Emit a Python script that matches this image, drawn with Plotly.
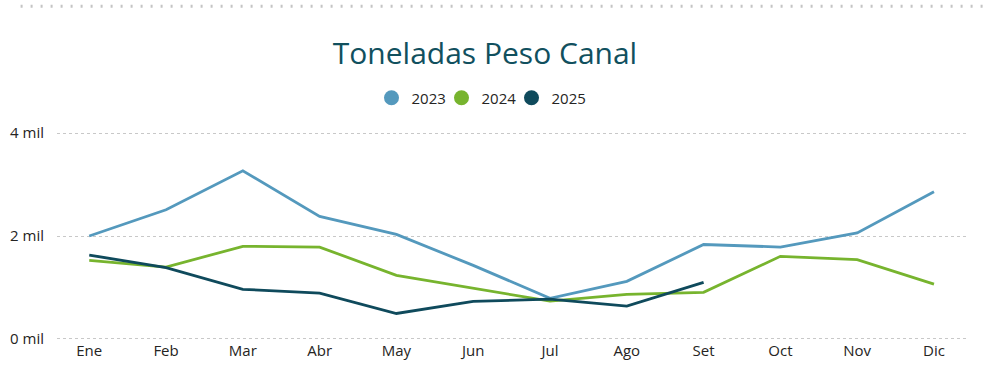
import plotly.graph_objects as go

months = ["Ene", "Feb", "Mar", "Abr", "May", "Jun", "Jul", "Ago", "Set", "Oct", "Nov", "Dic"]
v2023 = [2000, 2510, 3265, 2380, 2030, 1430, 790, 1120, 1835, 1785, 2060, 2860]
v2024 = [1525, 1395, 1800, 1785, 1235, 985, 735, 865, 905, 1605, 1540, 1065]
v2025 = [1630, 1385, 965, 890, 495, 730, 775, 640, 1100]
y_ticks = [0, 2000, 4000]
y_tick_text = ["0 mil", "2 mil", "4 mil"]

colors = {"2023": "#5499BD", "2024": "#77B42E", "2025": "#0F4A5C"}

fig = go.Figure()
for name, vals in [("2023", v2023), ("2024", v2024), ("2025", v2025)]:
    fig.add_trace(go.Scatter(
        x=months[:len(vals)], y=vals, name=name, mode="lines",
        line=dict(color=colors[name], width=2.8), showlegend=False,
        legendgroup=name,
    ))
    # legend entry drawn as a circle, like the reference
    fig.add_trace(go.Scatter(
        x=[None], y=[None], name=name, mode="markers",
        marker=dict(color=colors[name], size=15, symbol="circle"),
        legendgroup=name, showlegend=True,
    ))
# empty trailing legend slot so the compact last entry's text is not clipped
fig.add_trace(go.Scatter(x=[None], y=[None], name="", mode="markers",
                         marker=dict(color="rgba(0,0,0,0)", size=1,
                                     line=dict(width=0)),
                         showlegend=True, hoverinfo="skip"))

font_family = "Segoe UI, Open Sans, sans-serif"
fig.update_layout(
    width=1000, height=389,
    paper_bgcolor="white", plot_bgcolor="white",
    margin=dict(l=57, r=33, t=132, b=49, autoexpand=False),
    font=dict(family=font_family, size=15, color="#252423"),
    title=dict(text="Toneladas Peso Canal", x=0.485, xanchor="center",
               y=1 - 53 / 389, yref="container", yanchor="middle",
               font=dict(size=30, color="#11505E", family=font_family)),
    showlegend=True,
    legend=dict(orientation="h", x=0.3715, xanchor="left", xref="container",
                y=1 - 98 / 389, yref="container", yanchor="middle",
                font=dict(size=15, color="#252423"), itemwidth=30,
                entrywidth=25, entrywidthmode="pixels",
                tracegroupgap=0, traceorder="normal"),
    xaxis=dict(type="category", categoryorder="array", categoryarray=months,
               range=[-0.42, 11.43], showgrid=False, showline=False, zeroline=False,
               ticks="", automargin=False, tickfont=dict(size=15, color="#252423")),
    yaxis=dict(range=[-20, 4020], tickvals=y_ticks, ticktext=y_tick_text,
               showgrid=True, gridcolor="#C8C8C8", griddash="dot", gridwidth=1,
               zeroline=False, showline=False, ticks="", ticklabelstandoff=12,
               automargin=False, tickfont=dict(size=15, color="#252423")),
    shapes=[dict(type="line", xref="paper", yref="paper", x0=-0.04, x1=1.022,
                 y0=1.605, y1=1.605,
                 line=dict(color="#C4C4C4", width=3, dash="2px,8px"))],
)

fig.write_html("out.html", config={"displayModeBar": False},
               post_script="document.body.style.margin='0';")
